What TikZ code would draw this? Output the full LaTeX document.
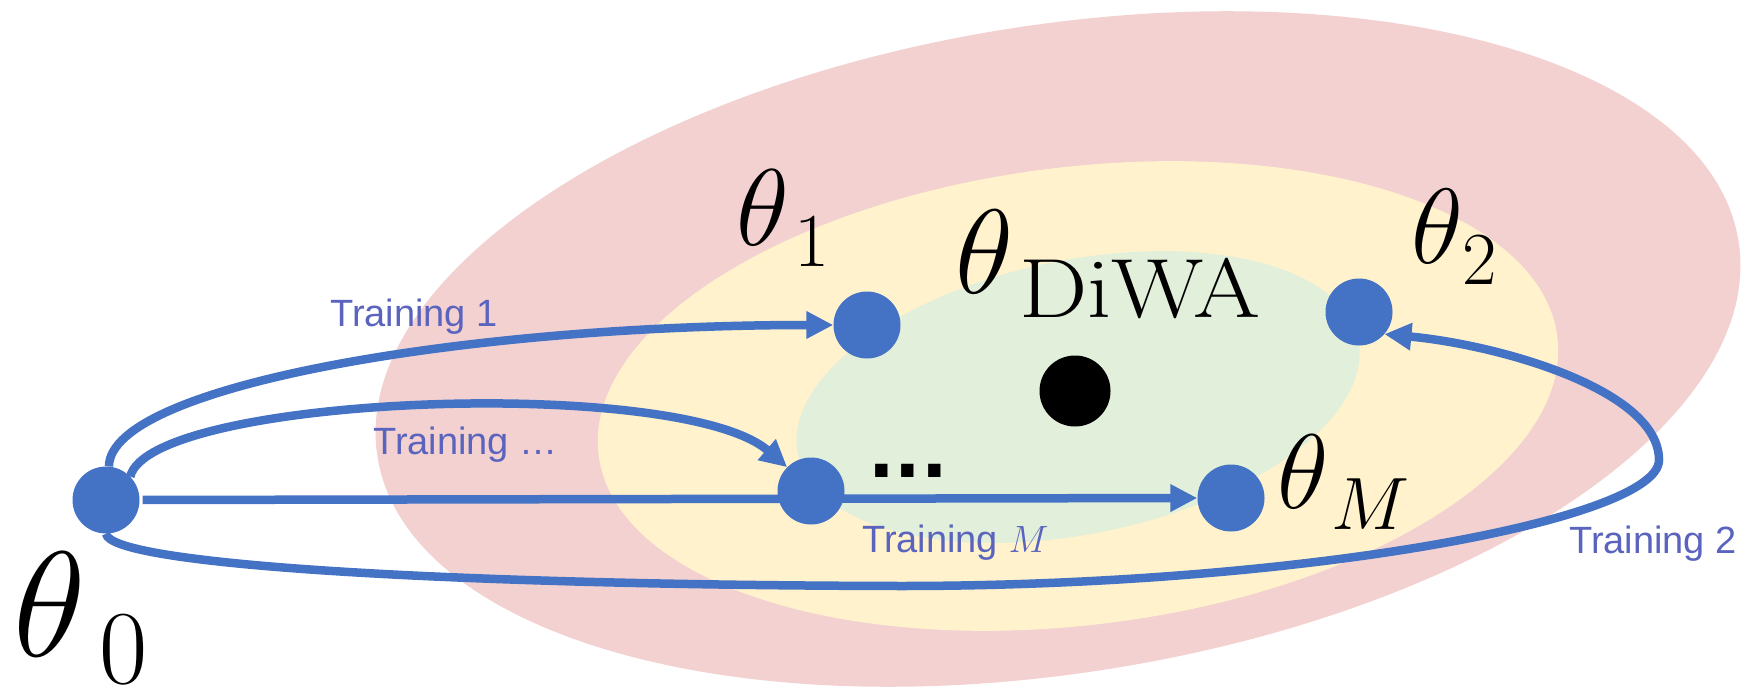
\RequirePackage{fix-cm}
\documentclass[tikz,border=0pt]{standalone}
\usepackage[no-math]{fontspec}
\newfontfamily\lab{Liberation Sans}
\newfontfamily\dotfont{DejaVu Sans}
\usetikzlibrary{arrows.meta}
\definecolor{pinkfill}{HTML}{F2D1D0}
\definecolor{yellowfill}{HTML}{FFF2CC}
\definecolor{greenfill}{HTML}{E2EFDA}
\definecolor{dotblue}{HTML}{4472C4}
\definecolor{labblue}{HTML}{5A64BE}
\pgfdeclarelayer{ell}
\pgfdeclarelayer{arr}
\pgfsetlayers{ell,arr,main}
\newcommand\lowsub[2][.08em]{_{\raisebox{-.05em}{\kern#1$\scriptstyle #2$}}}
\begin{document}
\begin{tikzpicture}[x=1pt,y=-1pt,
  dotnode/.style={circle,fill=dotblue,minimum size=67pt,inner sep=0pt},
  avgdot/.style={circle,fill=black,minimum size=71pt,inner sep=0pt},
  conn/.style={line width=8.5pt,draw=dotblue,-{Triangle[length=27pt,width=26pt]}},
  trainlab/.style={anchor=base west,inner sep=0pt,text=labblue,font=\lab\fontsize{38}{40}\selectfont},
  mathlab/.style={anchor=base west,inner sep=0pt,text=black}]
\useasboundingbox (0,0) rectangle (1753,693);
\begin{pgfonlayer}{ell}
\fill[pinkfill,rotate around={9:(1058,349)}] (1058,349) ellipse [x radius=689,y radius=324];
\fill[yellowfill,rotate around={7:(1078,396)}] (1078,396) ellipse [x radius=483,y radius=229];
\fill[greenfill,rotate around={11.5:(1078,397)}] (1078,397) ellipse [x radius=286,y radius=137];
\end{pgfonlayer}
% dots
\node[dotnode] (t0) at (106,500) {};
\node[dotnode] (t1) at (867,325) {};
\node[dotnode] (t3) at (811,491) {};
\node[dotnode] (tM) at (1231,498) {};
\node[dotnode] (t2) at (1359,312) {};
\node[avgdot] (avg) at (1075,391) {};
% connectors
\coordinate (c1) at (900,586);
\coordinate (c2) at (1659,460);
\begin{pgfonlayer}{arr}
\draw[conn] (t0.85) .. controls (110,385) and (470,325) .. (t1.west);
\draw[conn] (t0.44) .. controls (150,395) and (680,375) .. (t3.135);
\draw[conn,shorten <=3pt] (t0.east) -- (tM.west);
\draw[conn] (t0.south) .. controls (110,565) and (450,585) .. (c1)
  .. controls (1300,586) and (1659,520) .. (c2)
  .. controls (1659,390) and (1500,345) .. (t2.-41);
\end{pgfonlayer}
% labels
\node[trainlab] (l1) at (330,326) {Training 1};
\node[trainlab] (ldots) at (373,454) {Training …};
\node[trainlab] (lM) at (862,552) {Training $M$};
\node[trainlab] (l2) at (1569,553) {Training 2};
\node[mathlab,font=\fontsize{150}{150}\selectfont] (n0) at (13,656) {$\theta_{\raisebox{-.03em}{\kern.12em$\scriptstyle 0$}}$};
\node[mathlab,font=\fontsize{109}{109}\selectfont] (n1) at (736,245) {$\theta\lowsub{1}$};
\node[mathlab,font=\fontsize{120}{120}\selectfont] (nD) at (955,293) {$\theta_{\raisebox{-.05em}{\kern.08em\scalebox{1.15}[1]{$\scriptstyle\mathrm{DiWA}$}}}$};
\node[mathlab,font=\fontsize{107}{107}\selectfont] (n2) at (1411,263) {$\theta\lowsub[.02em]{2}$};
\node[mathlab,font=\fontsize{106}{106}\selectfont] (nM) at (1277,508) {$\theta\lowsub[.06em]{M}$};
\node[inner sep=0pt,font=\dotfont\bfseries\fontsize{70}{70}\selectfont] (ell) at (908,471) {...};
\end{tikzpicture}
\end{document}
